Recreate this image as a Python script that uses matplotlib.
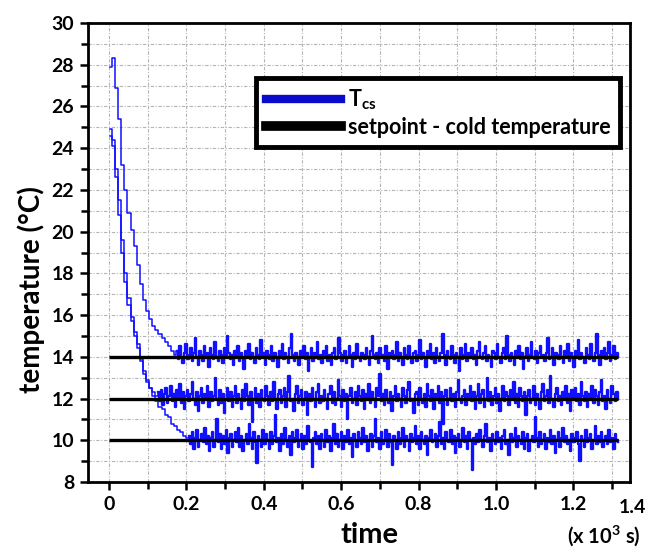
import numpy as np
import matplotlib
matplotlib.use("Agg")
import matplotlib.pyplot as plt
from matplotlib.ticker import MultipleLocator, FuncFormatter
from matplotlib.lines import Line2D

plt.rcParams['font.family'] = ['Lato', 'DejaVu Sans']
plt.rcParams['font.weight'] = 'bold'
plt.rcParams['mathtext.fontset'] = 'custom'
plt.rcParams['mathtext.bf'] = 'Lato:bold'
plt.rcParams['mathtext.rm'] = 'Lato:bold'

# time axis of the recordings (x 10^3 s)
t_first = 0.004
fall_step = 0.008
t_last = 1.316

# cool-down part of the three traces
fall_a = [27.9, 28.3, 26.9, 25.4, 23.2, 22.0, 20.9, 20.1, 19.3, 18.4, 17.5,
          16.7, 16.2, 15.8, 15.5, 15.3, 15.1, 14.9, 14.7, 14.5, 14.3, 14.1]
fall_b = [24.9, 24.4, 23.0, 21.5, 19.6, 18.0, 16.8, 15.9, 15.2, 14.6, 13.9,
          13.3, 12.9, 12.5, 12.3, 12.1]
fall_c = [24.6, 24.1, 22.6, 20.8, 19.0, 17.6, 16.5, 15.7, 15.0, 14.4, 13.8,
          13.2, 12.8, 12.5, 12.1, 11.9, 11.6, 11.5, 11.2, 11.1, 10.8, 10.7,
          10.5, 10.4, 10.2, 10.1]

# holding part, around each setpoint
hold_a = [
    14.3, 13.9, 14.5, 14.0, 13.7, 14.2, 14.6, 13.9, 14.1, 14.4,
    13.8, 14.2, 14.9, 14.0, 13.6, 14.3, 14.1, 13.8, 14.5, 14.0,
    14.2, 13.5, 14.4, 14.1, 13.9, 14.7, 14.0, 13.8, 14.3, 14.1,
    13.7, 14.4, 14.0, 15.0, 14.2, 13.9, 14.1, 13.6, 14.3, 14.0,
    14.5, 13.8, 14.2, 14.0, 13.4, 14.3, 14.1, 14.6, 13.9, 14.2,
    14.0, 13.7, 14.4, 14.1, 13.9, 14.8, 14.0, 14.2, 13.6, 14.3,
    14.1, 13.9, 14.5, 13.8, 14.2, 14.0, 13.5, 14.3, 14.1, 14.6,
    13.9, 14.2, 14.0, 13.7, 14.4, 15.1, 14.1, 13.8, 14.2, 14.0,
    13.6, 14.3, 14.1, 14.5, 13.9, 14.2, 13.3, 14.0, 14.4, 13.8,
    14.2, 14.0, 14.7, 13.9, 14.1, 13.7, 14.3, 14.0, 14.5, 13.8,
    14.1, 13.6, 14.2, 14.4, 13.9, 14.0, 14.9, 14.2, 13.8, 14.1,
    14.3, 13.7, 14.0, 14.5, 14.1, 13.5, 14.2, 13.9, 14.6, 14.0,
    13.8, 14.2, 14.1, 13.9, 14.4, 14.0, 13.6, 14.3, 15.0, 14.1,
    13.9, 14.2, 13.7, 14.4, 14.0, 14.1, 13.8, 14.5, 13.4, 14.2,
    14.0, 14.3, 13.9, 14.1, 14.7, 13.8, 14.2, 14.0, 13.6, 14.4,
    14.1, 13.9, 14.5, 14.0, 13.7, 14.2, 14.3, 13.8, 14.1, 14.8,
    13.9, 14.2, 14.0, 13.5, 14.3, 14.1, 14.6, 13.9, 14.2, 13.7,
    14.4, 14.0, 13.8, 14.2, 15.1, 14.1, 13.6, 14.3, 14.0, 13.9,
    14.5, 14.1, 13.7, 14.2, 14.0, 13.3, 14.4, 13.9, 14.1, 14.6,
    13.8, 14.2, 14.0, 14.4, 13.9, 14.1, 13.6, 14.3, 14.7, 14.0,
    13.9, 14.2, 14.5, 13.8, 14.1, 14.0, 13.5, 14.3, 14.2, 13.9,
    14.6, 14.0, 13.7, 14.2, 14.4, 13.9, 15.0, 14.1, 13.8, 14.2,
    14.0, 13.6, 14.3, 14.1, 14.5, 13.9, 14.2, 13.4, 14.0, 14.4,
    13.8, 14.1, 14.7, 14.0, 13.9, 14.3, 13.7, 14.2, 14.5, 14.0,
    14.1, 13.8, 14.2, 14.9, 13.9, 14.0, 14.4, 13.6, 14.2, 14.1,
    13.9, 14.5, 14.0, 13.7, 14.3, 14.1, 14.6, 13.8, 14.2, 14.0,
    13.5, 14.3, 14.1, 14.8, 13.9, 14.2, 14.0, 13.7, 14.4, 14.1,
    13.9, 14.6, 14.0, 13.8, 14.2, 15.1, 14.1, 13.6, 14.3, 14.0,
    14.4, 13.9, 14.2, 14.7, 13.8, 14.1, 14.5, 13.9, 14.2, 14.0]

hold_b = [
    12.3, 11.9, 12.4, 11.7, 12.2, 12.5, 11.8, 12.1, 12.6, 11.9,
    12.2, 11.6, 12.4, 12.0, 12.7, 11.8, 12.3, 11.5, 12.1, 12.4,
    11.9, 12.2, 12.8, 12.0, 11.7, 12.3, 11.4, 12.1, 12.5, 11.8,
    12.2, 12.0, 12.6, 11.6, 12.3, 11.9, 12.1, 13.0, 12.0, 11.7,
    12.4, 11.8, 12.2, 11.3, 12.0, 12.5, 11.9, 12.3, 11.6, 12.1,
    12.6, 11.8, 12.2, 12.0, 11.5, 12.4, 11.9, 12.7, 12.1, 11.7,
    12.3, 10.9, 12.0, 12.5, 11.8, 12.2, 11.6, 12.4, 12.0, 11.9,
    12.6, 12.1, 11.7, 12.3, 11.9, 12.8, 12.0, 11.5, 12.2, 12.4,
    11.8, 12.1, 12.5, 11.6, 12.3, 13.1, 11.9, 12.0, 11.4, 12.2,
    12.6, 11.8, 12.1, 12.4, 11.7, 12.0, 12.3, 11.2, 12.2, 11.9,
    12.5, 12.0, 11.6, 12.3, 12.7, 11.8, 12.1, 11.9, 12.4, 12.0,
    11.5, 12.2, 12.6, 11.8, 12.3, 11.7, 12.0, 12.9, 12.1, 11.6,
    12.4, 11.9, 12.2, 11.0, 12.1, 12.5, 11.8, 12.0, 12.3, 11.7,
    12.6, 12.1, 11.9, 12.4, 11.5, 12.2, 12.0, 12.7, 11.8, 12.3,
    12.0, 11.6, 12.5, 12.1, 13.2, 11.9, 12.2, 11.7, 12.4, 12.0,
    11.8, 12.3, 11.4, 12.1, 12.6, 11.9, 12.2, 12.0, 11.6, 12.5,
    12.1, 11.8, 12.4, 12.8, 11.9, 12.0, 11.3, 12.2, 12.3, 11.7,
    12.5, 12.0, 11.8, 12.2, 11.6, 12.7, 12.1, 11.9, 12.4, 11.5,
    12.2, 12.0, 12.6, 11.8, 12.3, 10.8, 12.1, 12.4, 11.7, 12.0,
    12.5, 11.9, 12.2, 11.6, 12.3, 12.9, 12.0, 11.8, 12.1, 12.4,
    11.7, 12.2, 12.0, 12.6, 11.9, 12.3, 11.5, 12.1, 12.7, 11.8,
    12.2, 12.4, 11.6, 12.0, 13.0, 11.9, 12.3, 11.7, 12.1, 12.5,
    11.8, 12.2, 11.4, 12.0, 12.6, 11.9, 12.3, 12.1, 11.7, 12.4,
    12.0, 12.8, 11.8, 12.2, 11.6, 12.5, 12.1, 11.9, 12.3, 11.2,
    12.1, 12.4, 11.8, 12.0, 12.6, 11.7, 12.2, 12.0, 11.5, 12.3,
    12.7, 11.9, 12.1, 12.4, 11.8, 13.1, 12.0, 11.6, 12.2, 12.5,
    11.9, 12.1, 11.7, 12.3, 12.0, 12.6, 11.8, 12.2, 11.4, 12.4,
    12.0, 12.5, 11.9, 12.2, 11.7, 12.8, 12.1, 11.9, 12.3, 11.6,
    12.2, 12.0, 12.6, 11.8, 12.4, 12.1, 11.7, 12.3, 12.9, 11.9,
    12.1, 11.5, 12.4, 12.0, 11.8, 12.6, 12.2, 11.9, 12.3, 12.0]

hold_c = [
    10.2, 9.8, 10.4, 9.6, 10.1, 10.5, 9.7, 10.0, 10.3, 9.9,
    10.6, 9.8, 10.2, 9.5, 10.1, 10.4, 9.7, 10.0, 11.0, 9.9,
    10.3, 9.6, 10.2, 9.8, 10.5, 9.4, 10.1, 10.3, 9.7, 10.0,
    10.4, 9.9, 10.6, 9.7, 10.2, 9.5, 10.0, 10.3, 9.8, 10.8,
    10.1, 9.6, 10.4, 9.9, 8.9, 10.2, 10.0, 9.7, 10.5, 9.8,
    10.3, 10.0, 9.6, 10.4, 9.8, 10.2, 11.2, 9.9, 10.1, 9.5,
    10.3, 9.8, 10.6, 10.0, 9.7, 10.2, 9.3, 10.4, 9.9, 10.1,
    10.5, 9.7, 10.0, 10.3, 9.6, 10.2, 9.8, 10.7, 10.0, 9.9,
    8.7, 10.1, 10.4, 9.8, 10.2, 9.6, 10.3, 10.0, 9.7, 10.5,
    9.9, 10.2, 9.5, 10.1, 10.8, 9.8, 10.3, 9.7, 10.0, 10.4,
    9.6, 10.2, 9.9, 10.5, 9.8, 10.1, 9.2, 10.3, 10.0, 9.7,
    10.4, 10.1, 9.8, 10.6, 9.9, 10.2, 9.5, 10.0, 10.3, 9.7,
    10.2, 11.0, 9.9, 10.1, 9.6, 10.4, 9.8, 10.0, 10.5, 9.7,
    10.3, 9.9, 8.8, 10.2, 10.0, 9.6, 10.4, 9.8, 10.1, 10.6,
    9.7, 10.2, 10.0, 9.5, 10.3, 9.9, 10.1, 10.7, 9.8, 10.2,
    9.6, 10.4, 10.0, 9.8, 10.2, 9.3, 10.1, 10.5, 9.9, 10.0,
    10.3, 9.7, 10.2, 10.9, 9.8, 10.1, 9.6, 10.4, 10.0, 9.9,
    10.5, 9.8, 10.2, 9.4, 10.1, 10.3, 9.7, 10.0, 10.6, 9.9,
    10.2, 9.6, 10.4, 10.0, 8.6, 10.1, 9.8, 10.3, 9.9, 10.5,
    10.0, 9.7, 10.2, 10.8, 9.9, 10.1, 9.5, 10.3, 10.0, 9.8,
    10.4, 9.9, 10.1, 9.6, 10.2, 10.5, 9.8, 10.0, 9.3, 10.3,
    9.9, 10.1, 10.6, 9.7, 10.2, 10.0, 9.8, 10.4, 9.6, 10.1,
    10.3, 9.5, 10.0, 10.2, 9.9, 11.1, 10.1, 9.7, 10.4, 9.8,
    10.0, 10.3, 9.6, 10.1, 9.9, 10.5, 9.8, 10.2, 9.4, 10.0,
    10.4, 9.7, 10.1, 10.6, 9.9, 10.2, 9.8, 10.0, 9.5, 10.3,
    9.9, 10.1, 10.4, 9.8, 9.0, 10.2, 10.0, 9.7, 10.5, 9.9,
    10.1, 10.3, 9.6, 10.0, 10.7, 9.8, 10.2, 9.9, 10.4, 9.7,
    10.0, 10.2, 9.8, 10.5, 9.9, 10.1, 9.6, 10.3, 10.0, 9.9]

setpoints = [14, 12, 10]
setpoint_t = [0.0, 1.315]

blue = '#1010ff'

fig = plt.figure(figsize=(6.5, 5.5), dpi=100)
ax = fig.add_axes([0.1354, 0.1236, 0.8338, 0.8346])

for fall, hold in ((fall_a, hold_a), (fall_b, hold_b), (fall_c, hold_c)):
    t_fall = t_first + fall_step * np.arange(len(fall))
    t_hold = np.linspace(t_fall[-1] + fall_step / 2, t_last, len(hold))
    # thin line for the cool-down, heavier for the dense holding noise
    ax.plot(np.append(t_fall, t_hold[0]), fall + hold[:1], color=blue, lw=1.1,
            drawstyle='steps-mid')
    ax.plot(t_hold, hold, color=blue, lw=1.7, drawstyle='steps-mid')

for sp in setpoints:
    ax.plot(setpoint_t, [sp, sp], color='black', lw=2.4, solid_capstyle='butt')

ax.set_xlim(-0.054, 1.346)
ax.set_ylim(8, 30)

ax.xaxis.set_major_locator(MultipleLocator(0.2))
ax.xaxis.set_minor_locator(MultipleLocator(0.1))
ax.yaxis.set_major_locator(MultipleLocator(2))
ax.yaxis.set_minor_locator(MultipleLocator(1))
ax.xaxis.set_major_formatter(FuncFormatter(lambda v, p: '0' if abs(v) < 1e-9 else f'{v:.1f}'))

ax.tick_params(which='both', direction='out', width=1.8, labelsize=14, top=False, right=False)
ax.tick_params(which='major', length=6, pad=4)
ax.tick_params(which='minor', length=5)
for lab in ax.get_xticklabels() + ax.get_yticklabels():
    lab.set_fontweight('bold')

ax.grid(which='both', color='#b4b4b4', lw=0.8, linestyle=(0, (3, 1.5, 1, 1.5)))
ax.set_axisbelow(True)

for side in ['left', 'bottom', 'top', 'right']:
    ax.spines[side].set_linewidth(2.0)

ax.set_ylabel('temperature (°C)', fontsize=20, fontweight='bold')
ax.yaxis.set_label_coords(-0.08, 0.42)
ax.set_xlabel('time', fontsize=21, fontweight='bold')
ax.xaxis.set_label_coords(0.52, -0.088)

# right end labels outside the drawn range
ax.text(1.004, -0.036, '1.4', transform=ax.transAxes, ha='center', va='top',
        fontsize=14, fontweight='bold')
ax.text(0.952, -0.117, r'(x 10$^{3}$ s)', transform=ax.transAxes, ha='center',
        va='center', fontsize=14.5, fontweight='bold')

handles = [Line2D([], [], color='#0a0acc', lw=6),
           Line2D([], [], color='black', lw=7)]
leg = ax.legend(handles, [r'T$_{\mathbf{cs}}$', 'setpoint - cold temperature'],
                loc='upper right', bbox_to_anchor=(0.9815, 0.880), fontsize=15.5,
                handlelength=3.5, fancybox=False, framealpha=1, borderpad=0.45,
                labelspacing=0.2, handletextpad=0.3, borderaxespad=0)
leg.get_frame().set_edgecolor('black')
leg.get_frame().set_linewidth(3.5)
for txt in leg.get_texts():
    txt.set_fontweight('bold')

fig.savefig('out.png', dpi=100)
